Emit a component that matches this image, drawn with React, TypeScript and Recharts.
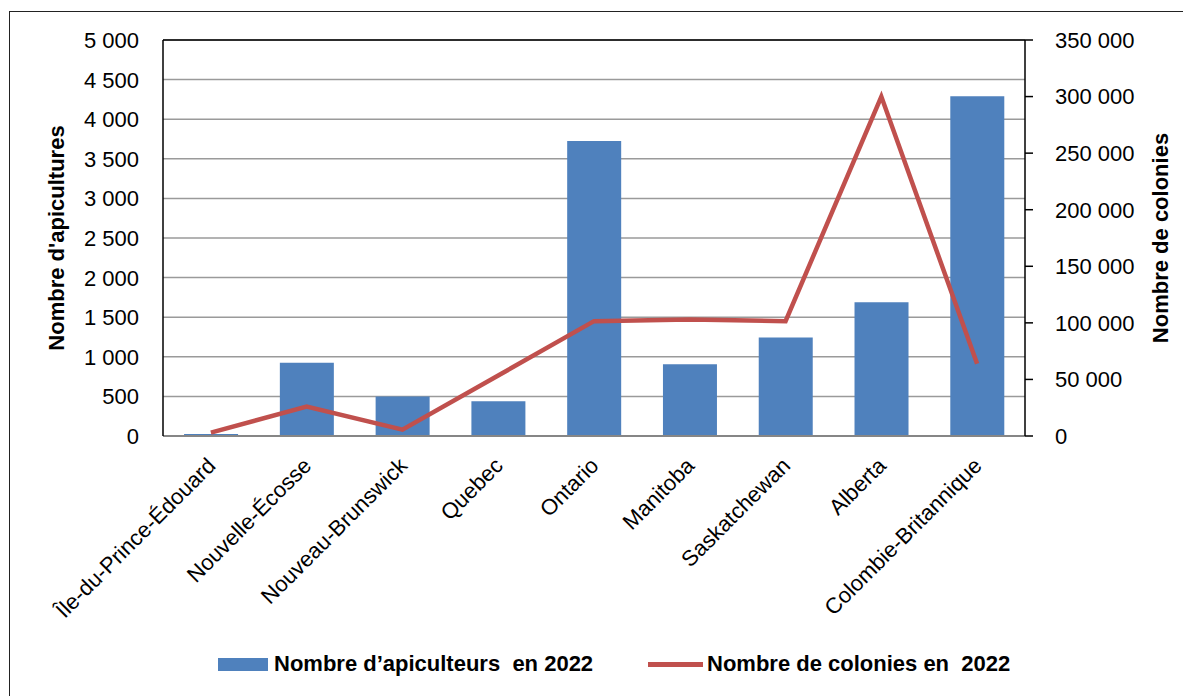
import React from 'react';
import {
  ComposedChart,
  Bar,
  Line,
  XAxis,
  YAxis,
  CartesianGrid,
  Legend,
  ReferenceLine,
} from 'recharts';

const provinces = [
  'Île-du-Prince-Édouard',
  'Nouvelle-Écosse',
  'Nouveau-Brunswick',
  'Quebec',
  'Ontario',
  'Manitoba',
  'Saskatchewan',
  'Alberta',
  'Colombie-Britannique',
];
const beekeepers2022 = [25, 925, 500, 440, 3725, 905, 1245, 1690, 4290];
const colonies2022 = [3000, 26000, 5600, 53500, 101500, 103000, 101500, 300000, 63800];
const leftTicks = [0, 500, 1000, 1500, 2000, 2500, 3000, 3500, 4000, 4500, 5000];
const rightTicks = [0, 50000, 100000, 150000, 200000, 250000, 300000, 350000];

const seriesNames = {
  bees: 'Nombre d’apiculteurs  en 2022',
  colonies: 'Nombre de colonies en  2022',
};
const leftTitle = "Nombre d'apicultures";
const rightTitle = 'Nombre de colonies';

const data = provinces.map((name, i) => ({
  name,
  bees: beekeepers2022[i],
  colonies: colonies2022[i],
}));

const FONT = '"Liberation Sans", Arial, Helvetica, sans-serif';
const BLUE = '#4f81bd';
const RED = '#c0504d';

const fmt = (v: number) => String(v).replace(/\B(?=(\d{3})+(?!\d))/g, ' ');

const YTick = (props: any) => {
  const { x, y, payload, textAnchor } = props;
  return (
    <text
      x={x}
      y={y}
      dy="0.36em"
      textAnchor={textAnchor}
      fontSize={22}
      fontFamily={FONT}
      fill="#000"
    >
      {fmt(payload.value)}
    </text>
  );
};

const XTick = (props: any) => {
  const { x, y, payload } = props;
  return (
    <text
      transform={`translate(${x + 6},${y + 31}) rotate(-45)`}
      textAnchor="end"
      fontSize={22}
      fontFamily={FONT}
      fill="#000"
    >
      {payload.value}
    </text>
  );
};

const LeftTitle = (props: any) => {
  const vb = props.viewBox || { x: 25, y: 32, width: 130, height: 396 };
  const cx = vb.x + 30.5;
  const cy = vb.y + vb.height / 2;
  return (
    <text
      transform={`translate(${cx},${cy}) rotate(-90)`}
      textAnchor="middle"
      fontSize={22}
      fontWeight="bold"
      fontFamily={FONT}
      fill="#000"
    >
      {leftTitle}
    </text>
  );
};

const RightTitle = (props: any) => {
  const vb = props.viewBox || { x: 1017, y: 32, width: 150, height: 396 };
  const cx = vb.x + 143;
  const cy = vb.y + vb.height / 2;
  return (
    <text
      transform={`translate(${cx},${cy}) rotate(-90)`}
      textAnchor="middle"
      fontSize={22}
      fontWeight="bold"
      fontFamily={FONT}
      fill="#000"
    >
      {rightTitle}
    </text>
  );
};

const LegendContent = () => (
  <div
    style={{
      position: 'relative',
      height: 40,
      width: 1183,
      fontFamily: FONT,
      fontWeight: 'bold',
      fontSize: 22,
      whiteSpace: 'pre',
      color: '#000',
    }}
  >
    <div style={{ position: 'absolute', left: 210, top: 14, width: 50, height: 13, background: BLUE }} />
    <div style={{ position: 'absolute', left: 266, top: 7, lineHeight: '26px' }}>{seriesNames.bees}</div>
    <div style={{ position: 'absolute', left: 640, top: 18, width: 55, height: 5, background: RED }} />
    <div style={{ position: 'absolute', left: 699, top: 7, lineHeight: '26px' }}>{seriesNames.colonies}</div>
  </div>
);

export default function App() {
  return (
    <div style={{ position: 'relative', width: 1183, height: 688 }}>
      <div
        style={{
          position: 'absolute',
          left: 1,
          top: 3,
          width: 1182,
          height: 685,
          borderTop: '1.5px solid #222',
          borderLeft: '1.5px solid #222',
          boxSizing: 'border-box',
        }}
      />
      <ComposedChart
        width={1183}
        height={688}
        data={data}
        margin={{ top: 32, right: 16, bottom: 12, left: 25 }}
        barCategoryGap="22%"
      >
        <CartesianGrid yAxisId="left" vertical={false} stroke="#9a9a9a" strokeWidth={1.5} />
        <XAxis
          dataKey="name"
          interval={0}
          height={208}
          tickLine={false}
          tickSize={0}
          tickMargin={0}
          axisLine={{ stroke: '#868686', strokeWidth: 2 }}
          tick={<XTick />}
        />
        <YAxis
          yAxisId="left"
          orientation="left"
          width={130}
          domain={[0, 5000]}
          ticks={leftTicks}
          interval={0}
          tickLine={false}
          tickSize={0}
          tickMargin={24}
          axisLine={{ stroke: '#000', strokeWidth: 1.5 }}
          tick={<YTick />}
          label={<LeftTitle />}
        />
        <YAxis
          yAxisId="right"
          orientation="right"
          width={150}
          domain={[0, 350000]}
          ticks={rightTicks}
          interval={0}
          tickSize={8}
          tickMargin={22}
          tickLine={{ stroke: '#000', strokeWidth: 1.5 }}
          axisLine={{ stroke: '#000', strokeWidth: 1.5 }}
          tick={<YTick />}
          label={<RightTitle />}
        />
        <ReferenceLine yAxisId="left" y={5000} stroke="#000" strokeWidth={1.5} />
        <Legend verticalAlign="bottom" wrapperStyle={{ left: 0, width: 1183 }} content={<LegendContent />} />
        <Bar yAxisId="left" dataKey="bees" name={seriesNames.bees} fill={BLUE} isAnimationActive={false} />
        <Line
          yAxisId="right"
          dataKey="colonies"
          name={seriesNames.colonies}
          type="linear"
          stroke={RED}
          strokeWidth={4.5}
          dot={false}
          activeDot={false}
          isAnimationActive={false}
        />
      </ComposedChart>
    </div>
  );
}
